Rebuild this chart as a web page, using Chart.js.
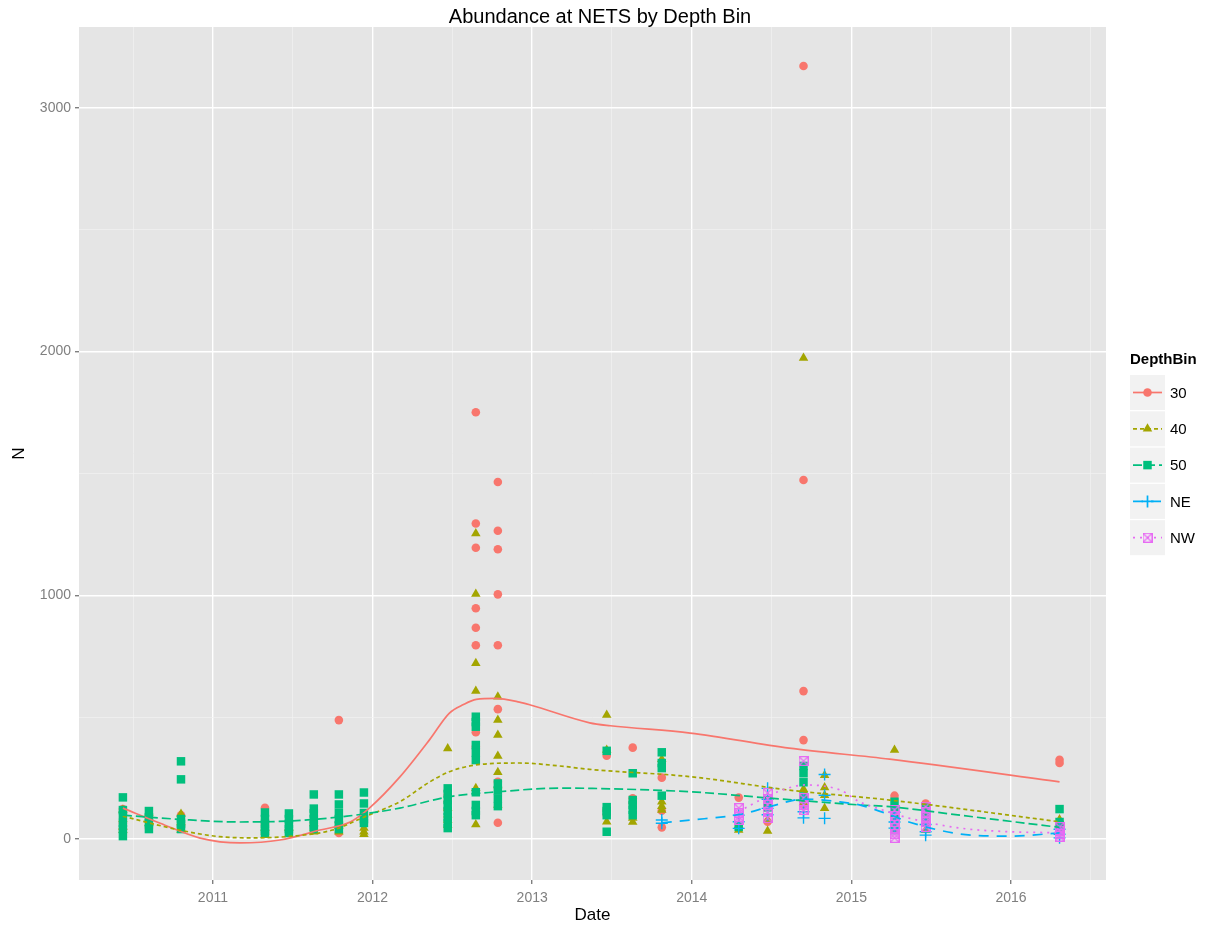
<!DOCTYPE html>
<html>
<head>
<meta charset="utf-8">
<script src="https://cdn.jsdelivr.net/npm/chart.js@4.4.0/dist/chart.umd.min.js"></script>
<style>
  html, body { margin: 0; padding: 0; background: #fff; }
  #wrap { width: 1207px; height: 932px; }
</style>
</head>
<body>
<div id="wrap"><canvas id="chart" width="1207" height="932"></canvas></div>
<script>
// sampling dates (decimal years)
const dates = [2010.436, 2010.599, 2010.80, 2011.326, 2011.476, 2011.632, 2011.789, 2011.946,
  2012.471, 2012.647, 2012.785, 2013.467, 2013.63, 2013.812, 2014.294, 2014.475, 2014.70,
  2014.832, 2015.27, 2015.465, 2016.304];

// N per sampling date, one list per depth bin
const n30 = [[123, 66, 40], [74, 45], [98, 55], [128, 62], [37], [64], [488, 67, 25], [90],
  [181, 153, 120], [1751, 1295, 1195, 947, 867, 795, 438, 379], [1465, 1265, 1189, 1004, 795, 533, 235, 67],
  [342, 119, 100], [375, 167, 149], [252, 116, 48], [170], [71], [3172, 1473, 607, 406, 140],
  [], [178], [146], [325, 312]];
const n40 = [[119, 82, 37, 50], [107, 66], [103, 70, 37], [30, 16, 45], [45, 20], [64, 30, 45], [55, 30],
  [45, 30, 20], [372, 127, 100, 78, 57], [1254, 1005, 721, 607, 208, 60], [584, 488, 427, 341, 274, 220, 140],
  [509, 365, 71], [86, 70], [327, 153, 135, 119], [57, 37], [78, 33], [1974, 204, 150],
  [262, 212, 180, 126], [365, 100, 37], [120, 37], [80, 55]];
const n50 = [[171, 119, 98, 66, 41, 12], [115, 90, 66, 41], [319, 245, 82, 62, 41], [109, 82, 62, 41, 25],
  [105, 82, 62, 41, 25], [183, 125, 105, 82, 57, 41], [183, 142, 107, 82, 57, 41], [191, 146, 107, 82, 66],
  [208, 185, 160, 140, 115, 90, 66, 45], [502, 480, 461, 386, 355, 324, 192, 140, 115, 98],
  [228, 200, 167, 135], [362, 131, 115, 98, 30], [270, 160, 140, 120, 98], [356, 312, 291, 178],
  [50], [160, 130], [300, 270, 233, 175], [], [153, 120, 92, 60, 37], [128, 100, 70], [123, 70, 45]];
const nNE = [[], [], [], [], [], [], [], [], [], [], [], [], [], [78, 65], [98, 71, 44],
  [208, 163, 126, 100], [160, 112, 87], [265, 180, 85], [110, 70, 45], [60, 30, 16], [40, 20, 5]];
const nNW = [[], [], [], [], [], [], [], [], [], [], [], [], [], [], [127, 107, 90, 78],
  [189, 165, 140, 110, 86], [320, 168, 140, 119], [], [119, 95, 70, 45, 20, 5], [133, 110, 90, 70, 50],
  [50, 35, 20, 10]];

// smoothed trend per depth bin
const fit30X = [2010.436, 2010.67, 2010.92, 2011.17, 2011.42, 2011.67, 2011.86, 2011.98, 2012.17, 2012.36,
  2012.48, 2012.57, 2012.65, 2012.77, 2012.92, 2013.0, 2013.36, 2013.49, 2013.99, 2014.61, 2015.24, 2016.304];
const fit30Y = [127, 65, 4, -16, -4, 37, 70, 127, 254, 410, 516, 552, 573, 577, 562, 548, 477, 465, 435, 373, 328, 235];
const fit40X = [2010.436, 2010.79, 2011.04, 2011.25, 2011.50, 2011.75, 2011.96, 2012.17, 2012.36, 2012.48,
  2012.61, 2012.78, 2012.92, 2013.17, 2013.36, 2013.99, 2014.61, 2015.24, 2016.304];
const fit40Y = [94, 37, 10, 5, 12, 37, 94, 153, 235, 276, 300, 311, 312, 300, 286, 256, 201, 160, 71];
const fit50X = [2010.436, 2010.79, 2011.17, 2011.50, 2011.84, 2012.17, 2012.48, 2012.79, 2013.17, 2013.36,
  2013.99, 2014.49, 2015.05, 2015.24, 2015.68, 2016.304];
const fit50Y = [98, 81, 70, 75, 94, 127, 174, 194, 209, 208, 194, 168, 140, 133, 98, 48];
const fitNEX = [2013.812, 2013.99, 2014.30, 2014.49, 2014.70, 2014.92, 2015.05, 2015.24, 2015.36, 2015.68, 2015.99, 2016.304];
const fitNEY = [67, 78, 101, 133, 164, 153, 140, 100, 70, 21, 12, 25];
const fitNWX = [2014.294, 2014.37, 2014.54, 2014.71, 2014.93, 2015.05, 2015.16, 2015.36, 2015.68, 2015.99, 2016.304];
const fitNWY = [112, 140, 194, 222, 201, 153, 127, 86, 45, 30, 26];

const xMajor = [2011, 2012, 2013, 2014, 2015, 2016];
const xMinor = [2010.5, 2011.5, 2012.5, 2013.5, 2014.5, 2015.5, 2016.5];
const yMajor = [0, 1000, 2000, 3000];
const yMinor = [500, 1500, 2500];

const seriesNames = ['30', '40', '50', 'NE', 'NW'];
const seriesValues = [n30, n40, n50, nNE, nNW];
const fitsX = [fit30X, fit40X, fit50X, fitNEX, fitNWX];
const fitsY = [fit30Y, fit40Y, fit50Y, fitNEY, fitNWY];

const colors = ['#F8766D', '#A3A500', '#00BF7D', '#00B0F6', '#E76BF3'];
const dashes = [[], [4, 3], [9, 4], [10, 8], [2, 5]];

function boxCross(color) {
  const s = 10, c = document.createElement('canvas');
  c.width = s; c.height = s;
  const g = c.getContext('2d');
  g.strokeStyle = color; g.lineWidth = 1.2;
  g.strokeRect(0.6, 0.6, s - 1.2, s - 1.2);
  g.beginPath();
  g.moveTo(1, 1); g.lineTo(s - 1, s - 1);
  g.moveTo(s - 1, 1); g.lineTo(1, s - 1);
  g.stroke();
  return c;
}

const markers = [
  { pointStyle: 'circle', radius: 4.3, borderWidth: 0 },
  { pointStyle: 'triangle', radius: 5.5, borderWidth: 0 },
  { pointStyle: 'rect', radius: 6, borderWidth: 0 },
  { pointStyle: 'cross', radius: 6, borderWidth: 1.4 },
  { pointStyle: boxCross(colors[4]), radius: 5, borderWidth: 0 }
];

const pointSets = seriesNames.map((name, i) => ({
  label: name,
  data: dates.flatMap((d, j) => seriesValues[i][j].map(v => ({ x: d, y: v }))),
  backgroundColor: colors[i],
  borderColor: colors[i],
  pointStyle: markers[i].pointStyle,
  pointRadius: markers[i].radius,
  pointBorderWidth: markers[i].borderWidth,
  showLine: false,
  order: 14 - i
}));

const lineSets = seriesNames.map((name, i) => ({
  type: 'line',
  label: name + ' fit',
  data: fitsX[i].map((x, j) => ({ x: x, y: fitsY[i][j] })),
  borderColor: colors[i],
  borderWidth: 1.7,
  borderDash: dashes[i],
  pointRadius: 0,
  fill: false,
  cubicInterpolationMode: 'monotone',
  order: 4 - i
}));

const panelBg = {
  id: 'panelBg',
  beforeDraw(chart) {
    const { ctx, chartArea: a } = chart;
    ctx.save();
    ctx.fillStyle = '#E5E5E5';
    ctx.fillRect(a.left, a.top, a.right - a.left, a.bottom - a.top);
    ctx.restore();
  }
};

const titleAndLegend = {
  id: 'titleAndLegend',
  afterDraw(chart) {
    const ctx = chart.ctx;
    ctx.save();
    ctx.fillStyle = '#000';
    ctx.font = '20px "Liberation Sans", Arial, sans-serif';
    ctx.textAlign = 'center';
    ctx.textBaseline = 'middle';
    ctx.fillText('Abundance at NETS by Depth Bin', 600, 17);

    ctx.textAlign = 'left';
    ctx.font = 'bold 15px "Liberation Sans", Arial, sans-serif';
    ctx.fillText('DepthBin', 1130, 360);
    ctx.font = '15px "Liberation Sans", Arial, sans-serif';
    seriesNames.forEach((name, i) => {
      const top = 375 + i * 36.3, left = 1130, size = 35;
      const cy = top + size / 2;
      ctx.fillStyle = '#F2F2F2';
      ctx.fillRect(left, top, size, size);
      ctx.strokeStyle = colors[i];
      ctx.lineWidth = 1.7;
      ctx.setLineDash(dashes[i]);
      ctx.beginPath();
      ctx.moveTo(left + 3, cy); ctx.lineTo(left + size - 3, cy);
      ctx.stroke();
      ctx.setLineDash([]);
      ctx.fillStyle = colors[i];
      ctx.strokeStyle = colors[i];
      Chart.helpers.drawPoint(ctx, {
        pointStyle: markers[i].pointStyle,
        radius: markers[i].radius,
        borderWidth: markers[i].borderWidth,
        rotation: 0
      }, left + size / 2, cy);
      ctx.fillStyle = '#000';
      ctx.fillText(name, 1170, cy + 1);
    });
    ctx.restore();
  }
};

Chart.defaults.font.family = '"Liberation Sans", Arial, sans-serif';

const gridColor = ctx => (ctx.tick && ctx.tick.major) ? '#FFFFFF' : '#F2F2F2';
const gridWidth = ctx => (ctx.tick && ctx.tick.major) ? 1.4 : 0.7;
const tickColor = ctx => (ctx.tick && ctx.tick.major) ? '#7F7F7F' : 'rgba(0,0,0,0)';

new Chart(document.getElementById('chart'), {
  type: 'scatter',
  data: { datasets: [...lineSets, ...pointSets] },
  options: {
    responsive: false,
    animation: false,
    devicePixelRatio: 1,
    layout: { padding: { top: 27, right: 101, left: 0, bottom: 0 } },
    plugins: { legend: { display: false }, tooltip: { enabled: false } },
    scales: {
      x: {
        type: 'linear',
        min: 2010.161,
        max: 2016.595,
        afterBuildTicks: s => {
          s.ticks = [...xMinor.map(v => ({ value: v })), ...xMajor.map(v => ({ value: v, major: true }))]
            .sort((a, b) => a.value - b.value);
        },
        afterFit: s => { s.height = 52; },
        border: { display: false },
        grid: { color: gridColor, lineWidth: gridWidth, tickColor: tickColor, tickLength: 4 },
        ticks: {
          autoSkip: false,
          maxRotation: 0,
          padding: 6,
          color: '#7F7F7F',
          font: { size: 14 },
          callback: v => xMajor.includes(v) ? String(v) : ''
        },
        title: { display: true, text: 'Date', color: '#000', font: { size: 17 }, padding: { top: 0, bottom: 6 } }
      },
      y: {
        type: 'linear',
        min: -168,
        max: 3332,
        afterBuildTicks: s => {
          s.ticks = [...yMinor.map(v => ({ value: v })), ...yMajor.map(v => ({ value: v, major: true }))]
            .sort((a, b) => a.value - b.value);
        },
        afterFit: s => { s.width = 79; },
        border: { display: false },
        grid: { color: gridColor, lineWidth: gridWidth, tickColor: tickColor, tickLength: 4 },
        ticks: {
          autoSkip: false,
          padding: 4,
          color: '#7F7F7F',
          font: { size: 14 },
          callback: v => yMajor.includes(v) ? String(v) : ''
        },
        title: { display: true, text: 'N', color: '#000', font: { size: 17 }, padding: { top: 9, bottom: 0 } }
      }
    }
  },
  plugins: [panelBg, titleAndLegend]
});
</script>
</body>
</html>
